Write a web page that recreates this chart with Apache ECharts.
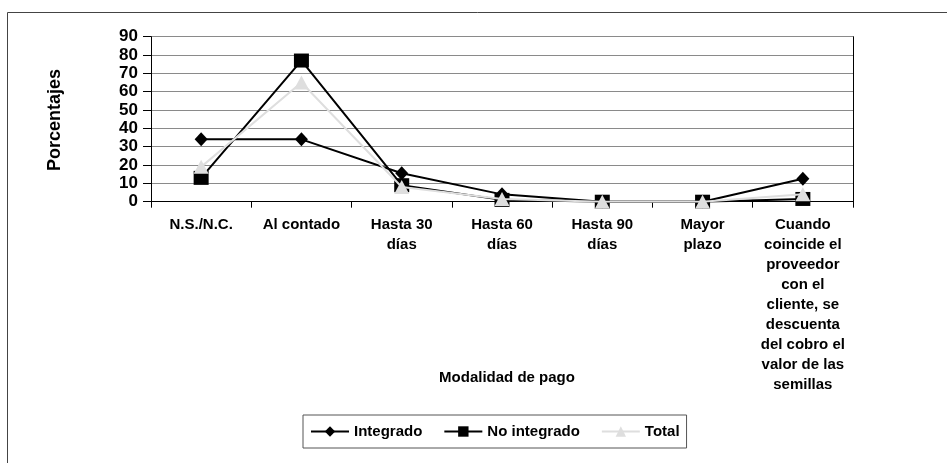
<!DOCTYPE html>
<html>
<head>
<meta charset="utf-8">
<script src="https://cdn.jsdelivr.net/npm/echarts@6/dist/echarts.min.js"></script>
<style>
  html, body { margin: 0; padding: 0; background: #fff; }
  #chart { width: 947px; height: 463px; }
</style>
</head>
<body>
<div id="chart"></div>
<script>
// Payment modality categories (x axis)
const categories = [
  'N.S./N.C.',
  'Al contado',
  'Hasta 30\ndías',
  'Hasta 60\ndías',
  'Hasta 90\ndías',
  'Mayor\nplazo',
  'Cuando\ncoincide el\nproveedor\ncon el\ncliente, se\ndescuenta\ndel cobro el\nvalor de las\nsemillas'
];

// Percentages per group
const integrado   = [34, 34, 15.5, 4, 0, 0, 12.5];
const noIntegrado = [13, 77, 9, 1, 0, 0, 1.5];
const total       = [19, 65, 8, 1.5, 0, 0, 4];

// Y axis scale
const yMin = 0;
const yMax = 90;
const yStep = 10;

const FONT = '"Liberation Sans", Arial, Helvetica, sans-serif';
const chart = echarts.init(document.getElementById('chart'), null, { renderer: 'canvas' });

chart.setOption({
  backgroundColor: '#ffffff',
  animation: false,
  textStyle: { fontFamily: FONT, color: '#000' },
  grid: { left: 151, right: 94, top: 36.7, bottom: 261.3, containLabel: false },
  xAxis: {
    type: 'category',
    data: categories,
    boundaryGap: true,
    axisLine: { show: true, lineStyle: { color: '#000', width: 1 } },
    axisTick: { show: true, length: 6, lineStyle: { color: '#000' } },
    axisLabel: {
      interval: 0,
      margin: 13,
      fontFamily: FONT,
      fontSize: 15,
      fontWeight: 'bold',
      color: '#000',
      lineHeight: 20,
      align: 'center'
    },
    splitLine: { show: false }
  },
  yAxis: [
    {
      type: 'value',
      min: yMin,
      max: yMax,
      interval: yStep,
      axisLine: { show: true, lineStyle: { color: '#000', width: 1 } },
      axisTick: { show: true, length: 8, lineStyle: { color: '#000' } },
      axisLabel: {
        margin: 13,
        fontFamily: FONT,
        fontSize: 17,
        fontWeight: 'bold',
        color: '#000'
      },
      splitLine: { show: true, lineStyle: { color: '#8a8a8a', width: 1 } }
    },
    {
      type: 'value',
      position: 'right',
      min: yMin,
      max: yMax,
      interval: yStep,
      axisLine: { show: true, lineStyle: { color: '#000', width: 1 } },
      axisTick: { show: false },
      axisLabel: { show: false },
      splitLine: { show: false }
    }
  ],
  legend: {
    left: 303,
    top: 415,
    orient: 'horizontal',
    padding: [9, 7, 9, 7],
    itemGap: 21,
    itemWidth: 38,
    itemHeight: 13,
    borderColor: '#555',
    borderWidth: 1,
    textStyle: { fontFamily: FONT, fontSize: 15, fontWeight: 'bold', color: '#000' },
    data: ['Integrado', 'No integrado', 'Total']
  },
  graphic: [
    {
      type: 'rect',
      silent: true,
      shape: { x: 7.5, y: 12.5, width: 1200, height: 1200 },
      style: { fill: 'none', stroke: '#444', lineWidth: 1 },
      z: -1
    },
    {
      type: 'text',
      silent: true,
      x: 55,
      y: 120,
      rotation: Math.PI / 2,
      style: {
        text: 'Porcentajes',
        font: 'bold 18px ' + FONT,
        fill: '#000',
        align: 'center',
        verticalAlign: 'middle'
      }
    },
    {
      type: 'text',
      silent: true,
      x: 507,
      y: 378,
      style: {
        text: 'Modalidad de pago',
        font: 'bold 15px ' + FONT,
        fill: '#000',
        align: 'center',
        verticalAlign: 'middle'
      }
    }
  ],
  series: [
    {
      name: 'Integrado',
      type: 'line',
      data: integrado,
      symbol: 'diamond',
      symbolSize: [13, 14],
      itemStyle: { color: '#000' },
      lineStyle: { color: '#000', width: 2 },
      z: 3
    },
    {
      name: 'No integrado',
      type: 'line',
      data: noIntegrado,
      symbol: 'rect',
      symbolSize: [15, 14],
      itemStyle: { color: '#000' },
      lineStyle: { color: '#000', width: 2 },
      z: 4
    },
    {
      name: 'Total',
      type: 'line',
      data: total,
      symbol: 'triangle',
      symbolSize: [15, 14],
      itemStyle: { color: '#dedede' },
      lineStyle: { color: '#dedede', width: 2 },
      z: 5
    }
  ]
});
</script>
</body>
</html>
